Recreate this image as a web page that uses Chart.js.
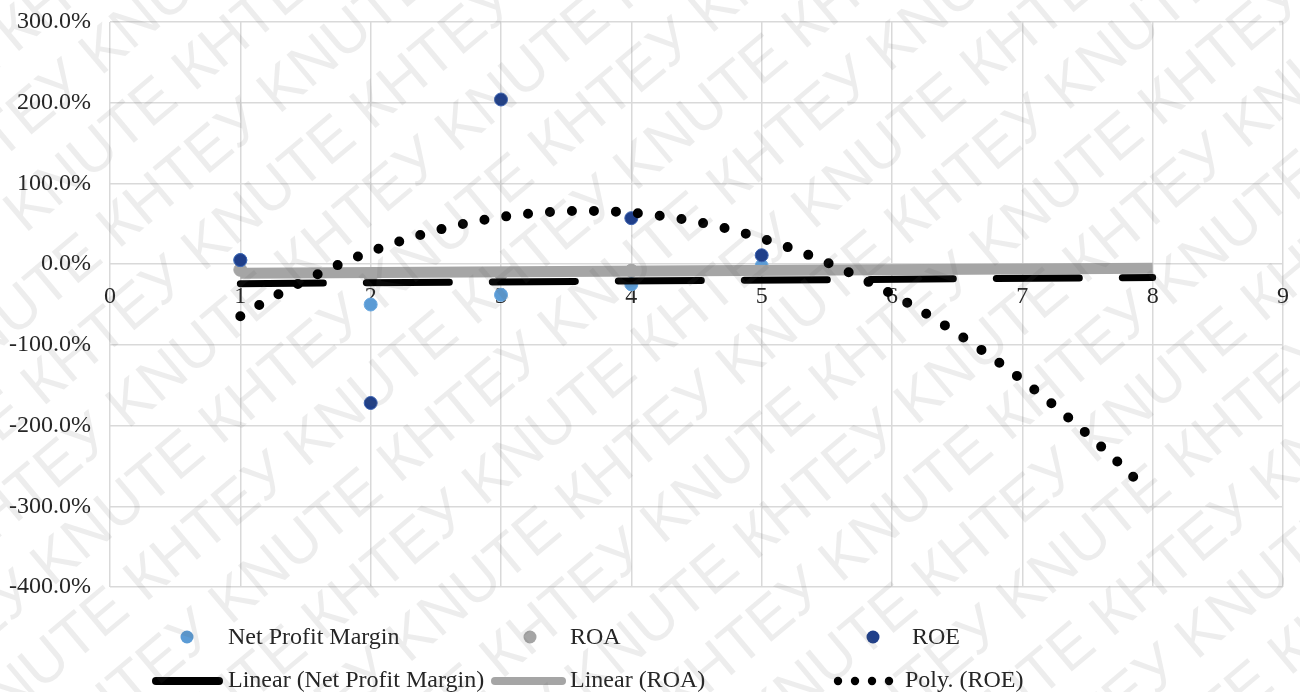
<!DOCTYPE html>
<html>
<head>
<meta charset="utf-8">
<script src="https://cdn.jsdelivr.net/npm/chart.js@4.4.1/dist/chart.umd.min.js"></script>
<style>
  html, body { margin: 0; padding: 0; background: #fff; }
  #wrap { width: 1300px; height: 692px; position: relative; }
</style>
</head>
<body>
<div id="wrap"><canvas id="chart" width="1300" height="692"></canvas></div>
<script>
// Observations by period (values in %)
const periods = [1, 2, 3, 4, 5];
const netProfitMargin = [5, -50, -38, -25, -2];
const roa = [-7, -15, -12, -8, -6];
const roe = [5, -172, 204, 57, 11];

// Axis ticks
const xTickValues = [0, 1, 2, 3, 4, 5, 6, 7, 8, 9];
const yTickValues = [300, 200, 100, 0, -100, -200, -300, -400];

// Trendline span (forward forecast to period 8)
const trendStart = 1;
const trendEnd = 8;

// Legend entries
const legendMarkers = ['Net Profit Margin', 'ROA', 'ROE'];
const legendTrends = ['Linear (Net Profit Margin)', 'Linear (ROA)', 'Poly. (ROE)'];

const FONT = "'Times New Roman', 'Liberation Serif', serif";
const TEXT = '#262626';
const C_NPM = '#5b9bd5';
const C_ROA = '#a5a5a5';
const C_ROE = '#1f3f8a';

// Least-squares fits used for the trendlines
function linearFit(xs, ys) {
  const n = xs.length;
  const mx = xs.reduce((a, b) => a + b, 0) / n;
  const my = ys.reduce((a, b) => a + b, 0) / n;
  let sxy = 0, sxx = 0;
  for (let i = 0; i < n; i++) { sxy += (xs[i] - mx) * (ys[i] - my); sxx += (xs[i] - mx) ** 2; }
  const b = sxy / sxx;
  return x => my + b * (x - mx);
}
function quadFit(xs, ys) {
  // normal equations for y = c0 + c1 x + c2 x^2
  const S = k => xs.reduce((a, x) => a + x ** k, 0);
  const T = k => xs.reduce((a, x, i) => a + ys[i] * x ** k, 0);
  const A = [[S(0), S(1), S(2)], [S(1), S(2), S(3)], [S(2), S(3), S(4)]];
  const B = [T(0), T(1), T(2)];
  for (let i = 0; i < 3; i++) {
    for (let j = i + 1; j < 3; j++) {
      const f = A[j][i] / A[i][i];
      for (let k = i; k < 3; k++) A[j][k] -= f * A[i][k];
      B[j] -= f * B[i];
    }
  }
  const c = [0, 0, 0];
  for (let i = 2; i >= 0; i--) {
    let s = B[i];
    for (let k = i + 1; k < 3; k++) s -= A[i][k] * c[k];
    c[i] = s / A[i][i];
  }
  return x => c[0] + c[1] * x + c[2] * x * x;
}

const npmTrend = linearFit(periods, netProfitMargin);
const roaTrend = linearFit(periods, roa);
const roeTrend = quadFit(periods, roe);

function sampleCurve(fn, from, to, step) {
  const pts = [];
  for (let x = from; x <= to + 1e-9; x += step) pts.push({ x: x, y: fn(x) });
  return pts;
}
const pairs = ys => periods.map((x, i) => ({ x: x, y: ys[i] }));

// Keep tick-label padding from widening the plot margins
const noEdgePadding = s => { s.paddingTop = 0; s.paddingBottom = 0; s.paddingLeft = 0; s.paddingRight = 0; };

// Faint diagonal watermark across the figure
const watermark = {
  id: 'watermark',
  afterDraw(chart) {
    const ctx = chart.ctx;
    ctx.save();
    ctx.fillStyle = 'rgba(90,90,90,0.11)';
    ctx.font = "60px 'Liberation Sans', Arial, sans-serif";
    ctx.textBaseline = 'middle';
    ctx.translate(650, 346);
    ctx.rotate(-40 * Math.PI / 180);
    const unit = 'КНТЕУ KNUTE ';
    const line = unit.repeat(12);
    const uw = ctx.measureText(unit).width;
    for (let r = -12; r <= 12; r++) {
      const off = ((r * 0.37) % 1) * uw;
      ctx.fillText(line, -1300 - off, r * 72);
    }
    ctx.restore();
  }
};

// Two-row legend under the plot
const legendRows = {
  id: 'legendRows',
  afterDraw(chart) {
    const ctx = chart.ctx;
    ctx.save();
    ctx.font = '24px ' + FONT;
    ctx.fillStyle = TEXT;
    ctx.textBaseline = 'middle';
    ctx.textAlign = 'left';
    const y1 = 638, y2 = 681;
    const textX = [228, 570, 912];
    const textX2 = [228, 570, 905];
    const markerX = [187, 530, 873];
    const colors = [C_NPM, C_ROA, C_ROE];
    for (let i = 0; i < 3; i++) {
      ctx.beginPath();
      ctx.arc(markerX[i], y1 - 1, 6.5, 0, Math.PI * 2);
      ctx.fillStyle = colors[i];
      ctx.fill();
      ctx.fillStyle = TEXT;
      ctx.fillText(legendMarkers[i], textX[i], y1);
    }
    ctx.lineCap = 'round';
    ctx.strokeStyle = '#000';
    ctx.lineWidth = 8;
    ctx.beginPath(); ctx.moveTo(156, y2); ctx.lineTo(219, y2); ctx.stroke();
    ctx.strokeStyle = C_ROA;
    ctx.lineWidth = 8;
    ctx.beginPath(); ctx.moveTo(495, y2); ctx.lineTo(562, y2); ctx.stroke();
    ctx.fillStyle = '#000';
    [838, 855, 872, 889].forEach(x => { ctx.beginPath(); ctx.arc(x, y2, 4.2, 0, Math.PI * 2); ctx.fill(); });
    ctx.fillStyle = TEXT;
    for (let i = 0; i < 3; i++) ctx.fillText(legendTrends[i], textX2[i], y2);
    ctx.restore();
  }
};

new Chart(document.getElementById('chart'), {
  type: 'scatter',
  data: {
    datasets: [
      {
        label: legendTrends[2], type: 'line', order: 1,
        data: sampleCurve(roeTrend, trendStart, trendEnd - 0.1, 0.01),
        borderColor: '#000', borderWidth: 10, borderDash: [0, 22],
        borderCapStyle: 'round', pointRadius: 0, fill: false, tension: 0
      },
      {
        label: legendTrends[0], type: 'line', order: 2,
        data: [{ x: trendStart, y: npmTrend(trendStart) }, { x: trendEnd, y: npmTrend(trendEnd) }],
        borderColor: '#000', borderWidth: 7, borderDash: [83, 43],
        borderCapStyle: 'round', pointRadius: 0, fill: false
      },
      {
        label: legendTrends[1], type: 'line', order: 3,
        data: [{ x: trendStart, y: roaTrend(trendStart) }, { x: trendEnd, y: roaTrend(trendEnd) }],
        borderColor: C_ROA, borderWidth: 11, borderCapStyle: 'butt',
        pointRadius: 0, fill: false
      },
      {
        label: legendMarkers[2], order: 4, data: pairs(roe),
        backgroundColor: C_ROE, borderColor: '#3d63b0', borderWidth: 1, pointRadius: 6.5
      },
      {
        label: legendMarkers[0], order: 5, data: pairs(netProfitMargin),
        backgroundColor: C_NPM, borderColor: '#6aa8e0', borderWidth: 1, pointRadius: 6.5
      },
      {
        label: legendMarkers[1], order: 6, data: pairs(roa),
        backgroundColor: C_ROA, borderColor: C_ROA, borderWidth: 1, pointRadius: 6.5
      }
    ]
  },
  options: {
    responsive: false,
    animation: false,
    layout: { padding: { left: 0, right: 17, top: 22, bottom: 105 } },
    plugins: { legend: { display: false }, tooltip: { enabled: false } },
    scales: {
      x: {
        type: 'linear',
        position: { y: 0 },
        min: 0, max: 9,
        afterBuildTicks: s => { s.ticks = xTickValues.map(v => ({ value: v })); },
        afterFit: noEdgePadding,
        ticks: { padding: 18, color: TEXT, font: { family: FONT, size: 24 }, callback: v => String(v) },
        grid: { color: '#d9d9d9', lineWidth: 1.5, drawTicks: false },
        border: { display: false }
      },
      y: {
        type: 'linear',
        min: -400, max: 300,
        afterBuildTicks: s => { s.ticks = yTickValues.map(v => ({ value: v })); },
        ticks: { padding: 19, color: TEXT, font: { family: FONT, size: 24 }, callback: v => v.toFixed(1) + '%' },
        grid: { color: '#d9d9d9', lineWidth: 1.5, drawTicks: false },
        border: { display: false },
        afterFit: s => { s.width = 110; noEdgePadding(s); }
      }
    }
  },
  plugins: [legendRows, watermark]
});
</script>
</body>
</html>
